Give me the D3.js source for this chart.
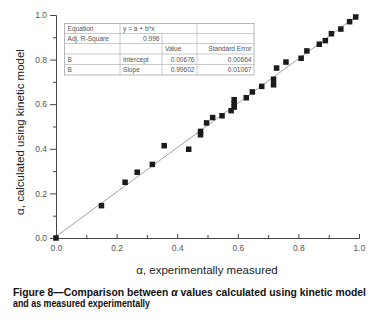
<!DOCTYPE html>
<html>
<head>
<meta charset="utf-8">
<script src="https://cdn.jsdelivr.net/npm/d3@7"></script>
<style>
  body { margin: 0; background: #fff; }
  text { font-family: "Liberation Sans", Arial, sans-serif; }
</style>
</head>
<body>
<div id="chart"></div>
<script>
// measured vs. calculated alpha values
var measured   = [0.00, 0.150, 0.228, 0.268, 0.318, 0.357, 0.438, 0.477, 0.477, 0.497, 0.517, 0.548, 0.578,
                  0.588, 0.588, 0.588, 0.628, 0.648, 0.679, 0.718, 0.718, 0.728, 0.759, 0.809, 0.828,
                  0.869, 0.889, 0.909, 0.940, 0.969, 0.989];
var calculated = [0.00, 0.145, 0.250, 0.295, 0.330, 0.414, 0.398, 0.478, 0.463, 0.516, 0.540, 0.548, 0.571,
                  0.620, 0.603, 0.587, 0.629, 0.655, 0.680, 0.712, 0.687, 0.762, 0.789, 0.806, 0.839,
                  0.869, 0.885, 0.916, 0.937, 0.970, 0.991];

// linear fit result shown in the inset table
var intercept = 0.00676, slope = 0.99602;
var tableRows = [
  ["Equation", "y = a + b*x", "", ""],
  ["Adj. R-Square", "0.996", "", ""],
  ["", "", "Value", "Standard Error"],
  ["B", "Intercept", "0.00676", "0.00664"],
  ["B", "Slope", "0.99602", "0.01067"]
];
var majorTicks = [0, 0.2, 0.4, 0.6, 0.8, 1.0];
var minorTicks = [0.1, 0.3, 0.5, 0.7, 0.9];

var width = 377, height = 329;
var svg = d3.select("#chart").append("svg")
  .attr("width", width)
  .attr("height", height);
svg.append("rect").attr("width", width).attr("height", height).attr("fill", "#fff");

var x = d3.scaleLinear().domain([0, 1]).range([56, 359]);
var y = d3.scaleLinear().domain([0, 1]).range([238, 15]);

// minor ticks first, then the labelled axis on top
svg.append("g")
  .attr("transform", "translate(0,238)")
  .call(d3.axisBottom(x).tickValues(minorTicks).tickSize(-3).tickFormat("").tickSizeOuter(0));
svg.append("g")
  .attr("transform", "translate(56,0)")
  .call(d3.axisLeft(y).tickValues(minorTicks).tickSize(3).tickFormat("").tickSizeOuter(0));

var xAxis = svg.append("g")
  .attr("transform", "translate(0,238)")
  .call(d3.axisBottom(x).tickValues(majorTicks).tickSize(-4).tickSizeOuter(0)
    .tickPadding(7).tickFormat(d3.format(".1f")));
var yAxis = svg.append("g")
  .attr("transform", "translate(56,0)")
  .call(d3.axisLeft(y).tickValues(majorTicks).tickSize(6).tickSizeOuter(0)
    .tickPadding(3).tickFormat(d3.format(".1f")));

svg.selectAll(".domain, .tick line").attr("stroke", "#444").attr("stroke-width", 1);
svg.selectAll(".tick text")
  .attr("font-family", "Liberation Sans, Arial, sans-serif")
  .attr("font-size", 8.5)
  .attr("fill", "#555");

// fitted line
svg.append("line")
  .attr("x1", x(0)).attr("y1", y(intercept))
  .attr("x2", x(1)).attr("y2", y(intercept + slope))
  .attr("stroke", "#8a8a8a")
  .attr("stroke-width", 0.8);

// points
var s = 5.5;
svg.selectAll("rect.pt")
  .data(measured.map(function(d, i) { return [d, calculated[i]]; }))
  .enter()
  .append("rect")
  .attr("class", "pt")
  .attr("x", function(d) { return x(d[0]) - s / 2; })
  .attr("y", function(d) { return y(d[1]) - s / 2; })
  .attr("width", s)
  .attr("height", s)
  .attr("fill", "#1a1a1a");

// inset table
var colX = [64.5, 120, 162, 197, 254];
var rowY = [23.5, 33.5, 43.5, 54, 64.5, 75];
var tbl = svg.append("g");
tbl.append("rect")
  .attr("x", colX[0]).attr("y", rowY[0])
  .attr("width", colX[4] - colX[0]).attr("height", rowY[5] - rowY[0])
  .attr("fill", "#fff").attr("stroke", "#999").attr("stroke-width", 0.7);
rowY.slice(1, 5).forEach(function(ry) {
  tbl.append("line").attr("x1", colX[0]).attr("x2", colX[4]).attr("y1", ry).attr("y2", ry)
    .attr("stroke", "#aaa").attr("stroke-width", 0.6);
});
colX.slice(1, 4).forEach(function(cx, ci) {
  var top = ci === 1 ? rowY[1] : rowY[0];
  tbl.append("line").attr("x1", cx).attr("x2", cx).attr("y1", top).attr("y2", rowY[5])
    .attr("stroke", "#aaa").attr("stroke-width", 0.6);
});
tableRows.forEach(function(row, ri) {
  row.forEach(function(cell, ci) {
    if (!cell) return;
    var right = (ri === 1 && ci === 1) || (ri >= 3 && ci >= 2) || (ri === 2 && ci === 3);
    var cx = right ? colX[ci + 1] - 2.5 : colX[ci] + 3;
    tbl.append("text")
      .attr("x", cx)
      .attr("y", rowY[ri] + 7.6)
      .attr("text-anchor", right ? "end" : "start")
      .attr("font-size", 6.6)
      .attr("fill", "#555")
      .text(cell);
  });
});

// axis titles
svg.append("text")
  .attr("x", 207).attr("y", 273.5)
  .attr("text-anchor", "middle")
  .attr("font-size", 11.5)
  .attr("fill", "#222")
  .text("α, experimentally measured");
svg.append("text")
  .attr("transform", "translate(24,132) rotate(-90)")
  .attr("text-anchor", "middle")
  .attr("font-size", 11.5)
  .attr("fill", "#222")
  .text("α, calculated using kinetic model");

// caption
var cap = svg.append("g").attr("font-weight", "bold").attr("font-size", 10.4).attr("fill", "#111");
var l1 = cap.append("text").attr("x", 13).attr("y", 296)
  .attr("textLength", 353).attr("lengthAdjust", "spacingAndGlyphs");
l1.append("tspan").text("Figure 8\u2014Comparison between ");
l1.append("tspan").attr("font-style", "italic").text("α");
l1.append("tspan").text(" values calculated using kinetic model");
cap.append("text").attr("x", 13).attr("y", 307)
  .attr("textLength", 137).attr("lengthAdjust", "spacingAndGlyphs")
  .text("and as measured experimentally");
</script>
</body>
</html>
